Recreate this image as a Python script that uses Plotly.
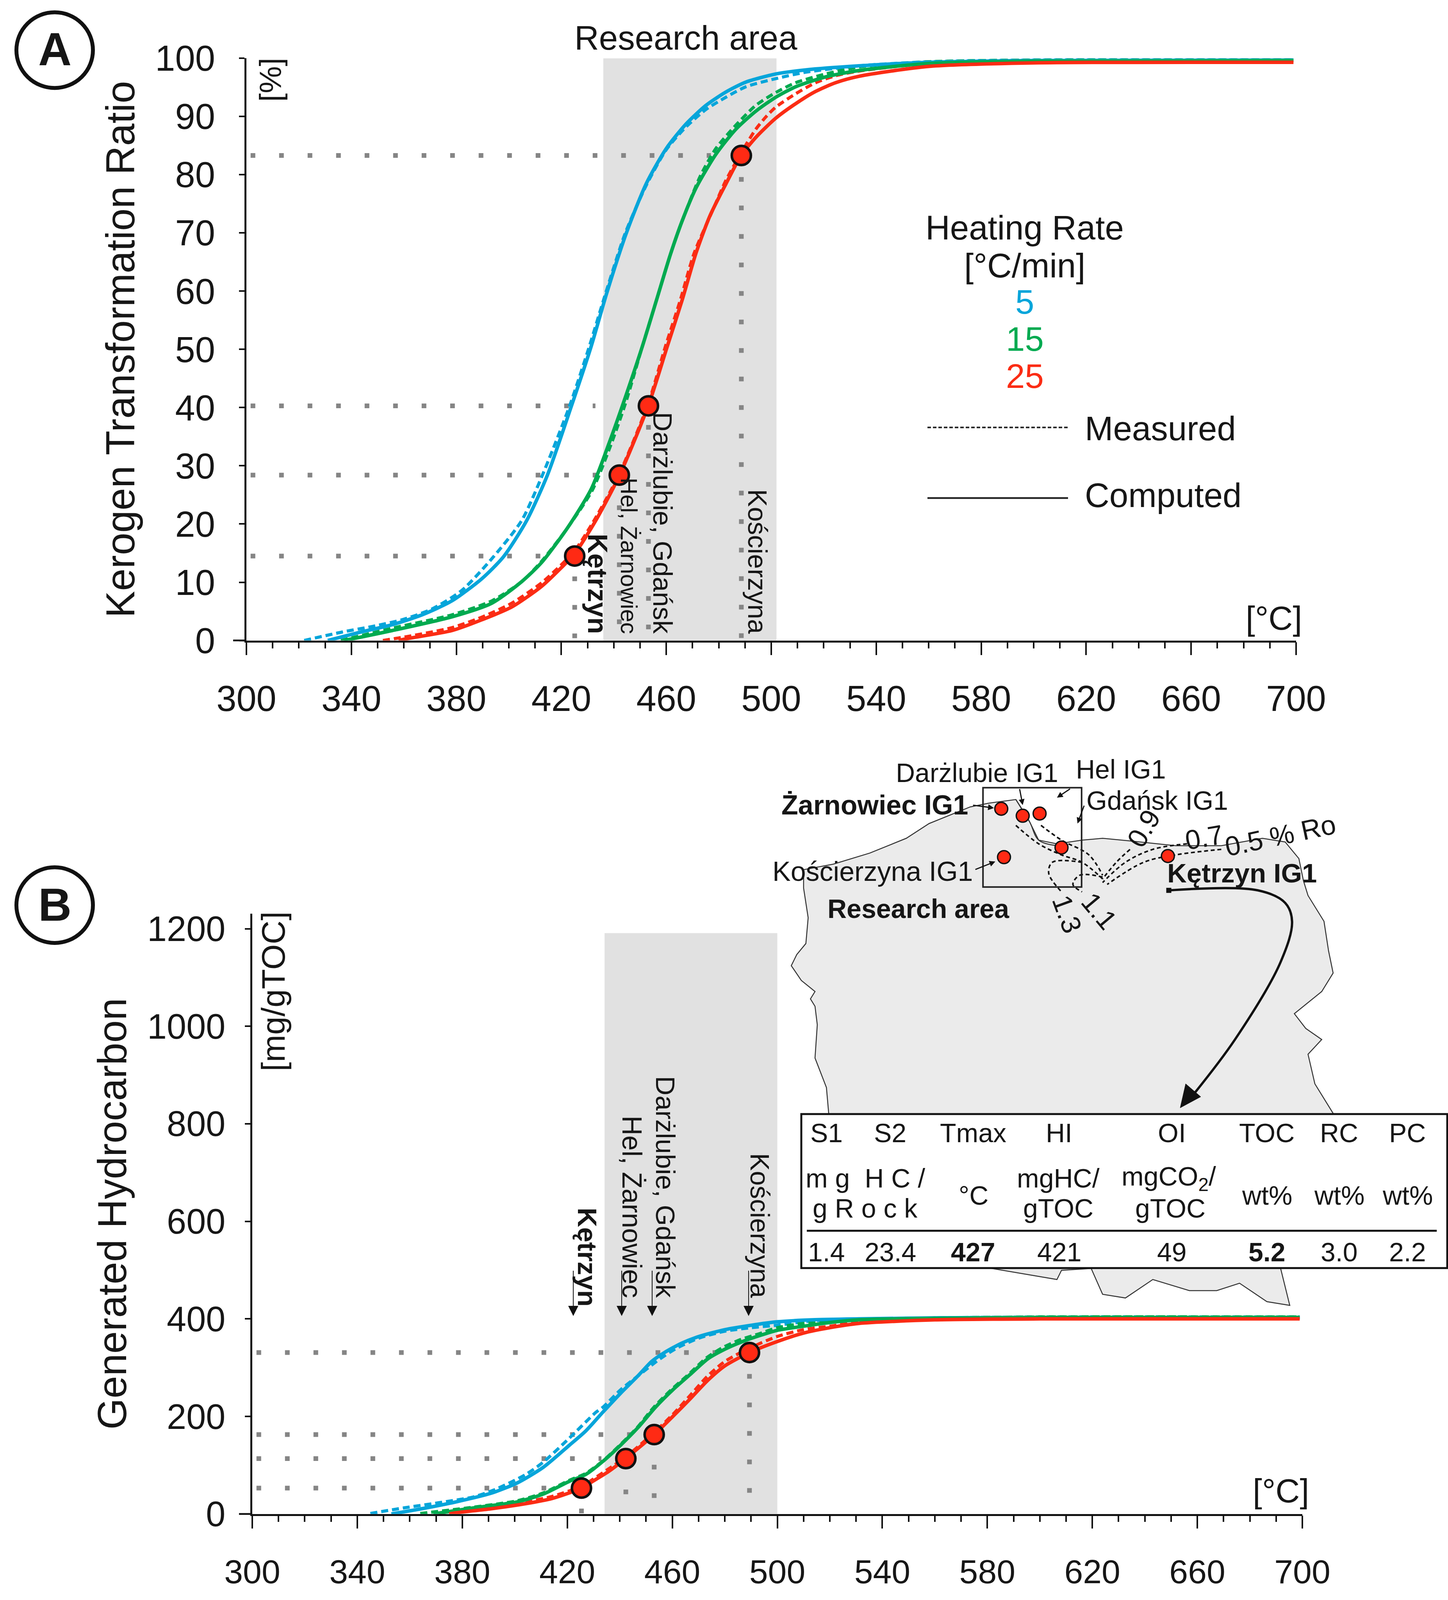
import plotly.graph_objects as go

W, H = 3708, 4147
BLUE, GREEN, RED = "#05a5da", "#00aa50", "#fb2c14"
INK = "#161616"
FONT = "Liberation Sans"

# ---------- Panel A data (temperature degC, transformation ratio %) ----------
A_BLUE_COMP_X = [331, 344.1, 355.5, 366.9, 378.3, 389.7, 398, 406.8, 414.7, 423.8, 431.3, 437.2, 444.8, 452.4, 460, 467.5, 475.1, 482.7, 490.3, 501.7, 513.1, 533.4, 560, 600, 699]
A_BLUE_COMP_Y = [0, 1.5, 2.7, 4.4, 6.8, 10.6, 14.4, 20.6, 28.4, 40.2, 50.4, 59.5, 70, 78.5, 84.5, 88.7, 91.9, 94.2, 95.9, 97.3, 98, 98.7, 99.3, 99.6, 99.7]
A_BLUE_MEAS_X = [322, 336.5, 347.9, 359.3, 370.7, 382.1, 394.2, 404.9, 412.8, 423.1, 430.6, 436.8, 444.4, 452.4, 460, 467.5, 475.1, 482.7, 490.3, 501.7, 513.1, 533.4, 560, 600, 699]
A_BLUE_MEAS_Y = [0, 1.45, 2.4, 3.55, 5.4, 8.6, 14.4, 20.6, 28.4, 40.2, 50.4, 59.5, 70, 78.2, 84.3, 88.2, 91.2, 93.3, 95.1, 96.5, 97.6, 98.7, 99.4, 99.7, 99.8]
A_GREEN_COMP_X = [337.3, 355.5, 378.3, 393.5, 404.9, 412.5, 422.3, 431.4, 438.3, 444.2, 450.8, 456.9, 461.5, 466, 471.3, 478.9, 486.5, 494.1, 501.7, 509.3, 520.7, 533.4, 560, 600, 699]
A_GREEN_COMP_Y = [0, 1.7, 4.06, 6.4, 10.1, 13.4, 19.3, 26, 34, 41.5, 50.4, 59.4, 66.2, 72, 77.7, 83.5, 87.8, 90.9, 93.3, 95.1, 96.8, 97.9, 99.1, 99.5, 99.6]
A_GREEN_MEAS_X = [336, 355.5, 378.3, 393.5, 404.9, 412.5, 422.3, 431.8, 438.8, 444.5, 450.8, 456.9, 461.5, 466, 472.9, 478.9, 486.5, 494.1, 501.7, 509.3, 520.7, 533.4, 560, 600, 699]
A_GREEN_MEAS_Y = [0, 2.1, 4.4, 6.8, 10.1, 13.6, 19.3, 25.8, 33.5, 40.8, 50.4, 59.4, 66.2, 72, 79.7, 84.5, 88.5, 91.9, 94.1, 95.8, 97.3, 98.5, 99.4, 99.7, 99.8]
A_RED_COMP_X = [358, 361.6, 378.3, 389.7, 401.1, 412.5, 420, 425.1, 433, 442.1, 453.2, 460.3, 466, 471.3, 476.7, 482.7, 488.4, 494.1, 501.7, 509.3, 516.9, 524.5, 533.4, 560, 600, 699]
A_RED_COMP_Y = [0, 0.34, 1.7, 3.55, 5.75, 9.3, 12.5, 14.9, 20.5, 28.3, 40.4, 50.4, 58.4, 66.5, 73, 78.4, 83.2, 86.4, 89.7, 92.2, 94.3, 95.8, 96.9, 98.6, 99.2, 99.3]
A_RED_MEAS_X = [352, 361.6, 378.3, 389.7, 401.1, 412.5, 420, 425.1, 433, 442.1, 453.2, 459.6, 465.3, 470.6, 477.4, 482.7, 490.3, 494.1, 497.9, 501.7, 509.3, 516.9, 524.5, 533.4, 560, 600, 699]
A_RED_MEAS_Y = [0, 0.7, 2.2, 4, 6.4, 9.9, 13, 15.4, 21, 28.6, 40.8, 50.4, 58.4, 66.5, 73.6, 79, 85.1, 87.8, 89.9, 91.6, 93.9, 95.8, 97, 97.8, 99.1, 99.5, 99.6]
A_WELL_T = [425.1, 442.1, 453.2, 488.6]
A_WELL_R = [14.5, 28.4, 40.3, 83.3]
A_H_END = [412, 444, 433, 477]
A_V_TOP = [11, 23.2, 37, 79.6]
A_BAND = [436, 502]

# ---------- Panel B data (temperature degC, generated hydrocarbon mg/gTOC) ----------
B_BLUE_COMP_X = [353, 364.4, 377.6, 390.9, 400.9, 410.8, 420.8, 427, 433.6, 440.3, 446.9, 452.2, 456.9, 463.5, 470.2, 480.1, 490.1, 500, 513.3, 531.1, 560, 600, 699]
B_BLUE_COMP_Y = [0, 10.6, 24.8, 42.4, 63.6, 95.5, 141, 170, 209, 247.5, 283, 313, 330.6, 350, 364, 378, 387, 394, 398, 400, 402, 403, 403]
B_BLUE_MEAS_X = [345, 357.7, 371, 384.3, 392.9, 404.2, 410.8, 420.8, 430.8, 433.6, 440.3, 446.9, 454.9, 461.5, 470.2, 480.1, 490.1, 500, 513.3, 531.1, 560, 600, 699]
B_BLUE_MEAS_Y = [1, 12.4, 23, 35, 51, 81, 106, 155.6, 208, 219, 254.6, 283, 316.5, 339.5, 360.7, 374.8, 382, 387, 396, 399.6, 402, 404, 404]
B_GREEN_COMP_X = [369, 384.3, 400.9, 410.8, 420.8, 427, 433.6, 440.3, 446.9, 453.6, 460.2, 466.8, 473.5, 480.1, 486.8, 493.4, 500, 510, 520, 531, 560, 600, 699]
B_GREEN_COMP_Y = [0, 12.4, 24.8, 40.7, 67, 81, 108, 141, 177, 219, 254.6, 286, 318, 338, 353.6, 366, 376.6, 385, 392.5, 398, 401, 403, 403]
B_GREEN_MEAS_X = [364, 384.3, 400.9, 410.8, 420.8, 427, 433.6, 440, 446.6, 453, 459.6, 466.2, 473, 479.5, 486.2, 493.4, 500, 510, 520, 531, 560, 600, 699]
B_GREEN_MEAS_Y = [1, 14, 27, 43, 69, 83, 109, 141, 177, 219, 254.6, 286, 320, 342, 358, 370, 382, 391, 396, 398, 402, 404, 404]
B_RED_COMP_X = [375, 377.6, 390.9, 404.2, 414.2, 425.4, 429.7, 435.6, 442.3, 453.1, 460.2, 466.8, 473.5, 480.1, 489.4, 500, 510, 520, 531, 560, 600, 699]
B_RED_COMP_Y = [0, 2.5, 10.6, 21.2, 31.8, 53, 67, 86.6, 113.9, 162.7, 200, 236, 274, 304, 331, 353.6, 371, 382, 390.7, 398, 400, 400]
B_RED_MEAS_X = [371, 390.9, 404.2, 414.2, 425.4, 435.6, 442.3, 453.1, 460.2, 466.8, 473.5, 480.1, 489.4, 500, 510, 520, 531, 560, 600, 699]
B_RED_MEAS_Y = [2, 14, 24.7, 36, 57, 92, 117, 167, 204, 243, 283, 313, 340, 364, 378, 385, 394, 400, 402, 402]
B_WELL_T = [425.4, 442.3, 453.1, 489.4]
B_WELL_G = [53, 113.5, 162.7, 331]
B_H_END = [412, 433, 444, 477]
B_V_TOP = [11, 50, 101, 287]
B_BAND = [434.2, 500]
B_BAND_TOP = 1191

X_TICKS = [300, 340, 380, 420, 460, 500, 540, 580, 620, 660, 700]
A_Y_TICKS = list(range(0, 101, 10))
B_Y_TICKS = [0, 200, 400, 600, 800, 1000, 1200]

WELL_NAMES = ["Kętrzyn", "Hel, Żarnowiec", "Darżlubie, Gdańsk", "Kościerzyna"]
HEATING = ["5", "15", "25"]

# ---------- Inset table ----------
TABLE_COLS = [185, 325, 506, 695, 942, 1150, 1308, 1458]
TABLE_HEAD = ["S1", "S2", "Tmax", "HI", "OI", "TOC", "RC", "PC"]
TABLE_VALS = ["1.4", "23.4", "427", "421", "49", "5.2", "3.0", "2.2"]
TABLE_BOLD = {"427", "5.2"}

# ---------- Inset map outline (schematic, in inset units) ----------
MAP_X = [135, 200, 280, 360, 410, 450, 500, 540, 600, 630, 650, 690, 745, 790, 850, 950, 1050, 1140, 1190, 1220, 1230,
         1240, 1275, 1285, 1295, 1270, 1210, 1235, 1270, 1240, 1255, 1295, 1180, 1200, 1150, 1090, 1040, 980, 900, 840,
         790, 765, 700, 690, 500, 190, 185, 160, 165, 160, 150, 160, 130, 108, 120, 140, 145, 135, 135]
MAP_Y = [370, 355, 325, 285, 245, 225, 200, 190, 180, 240, 290, 300, 290, 285, 292, 305, 305, 285, 295, 340, 400,
         440, 510, 590, 650, 700, 760, 800, 830, 870, 950, 1030, 1450, 1550, 1540, 1490, 1510, 1510, 1480, 1530,
         1520, 1450, 1455, 1480, 1440, 1030, 960, 880, 790, 740, 720, 700, 670, 630, 600, 570, 500, 420, 370]
MAP_WELLS_X = [568, 615, 652, 700, 574, 933]
MAP_WELLS_Y = [205, 224, 218, 310, 336, 333]
ISO_LINES = [
    ([1050, 950, 880, 800], [315, 330, 350, 410]),
    ([975, 900, 840, 790], [300, 315, 350, 405]),
    ([850, 820, 790], [315, 350, 395]),
    ([600, 650, 700, 745, 790], [250, 300, 330, 350, 395]),
    ([655, 700, 760, 790], [250, 290, 330, 385]),
    ([745, 680, 672, 700], [350, 350, 380, 430]),
    ([790, 740, 725, 745], [390, 385, 410, 430]),
]
BIG_ARROW_X = [935, 1130, 1190, 1205, 1180, 1080, 985]
BIG_ARROW_Y = [426, 426, 460, 510, 620, 830, 985]
BIG_HEAD_X = [960, 972, 1005, 960]
BIG_HEAD_Y = [1015, 950, 985, 1015]


def ix(c):
    return 1900 + c * 1.169


def iy(c):
    return 1900 + c * 0.957


fig = go.Figure()


def curve(x, y, color, axis, dashed):
    fig.add_trace(go.Scatter(
        x=x, y=y, mode="lines", xaxis="x" + axis, yaxis="y" + axis, hoverinfo="skip", showlegend=False,
        line=dict(color=color, width=8 if dashed else 9, dash="18px,10px" if dashed else "solid",
                  shape="spline", smoothing=0.7)))


def dots(x, y, axis):
    fig.add_trace(go.Scatter(
        x=x, y=y, mode="lines", xaxis="x" + axis, yaxis="y" + axis, hoverinfo="skip", showlegend=False,
        line=dict(color="#858585", width=12, dash="12px,61px")))


# Panel A
for t, r, e, v in zip(A_WELL_T, A_WELL_R, A_H_END, A_V_TOP):
    dots([301.6, e], [r, r], "")
    dots([t, t], [v, 0], "")
for xs, ys, col in [(A_BLUE_MEAS_X, A_BLUE_MEAS_Y, BLUE), (A_GREEN_MEAS_X, A_GREEN_MEAS_Y, GREEN), (A_RED_MEAS_X, A_RED_MEAS_Y, RED)]:
    curve(xs, ys, col, "", True)
for xs, ys, col in [(A_BLUE_COMP_X, A_BLUE_COMP_Y, BLUE), (A_GREEN_COMP_X, A_GREEN_COMP_Y, GREEN), (A_RED_COMP_X, A_RED_COMP_Y, RED)]:
    curve(xs, ys, col, "", False)
fig.add_trace(go.Scatter(x=A_WELL_T, y=A_WELL_R, mode="markers", hoverinfo="skip", showlegend=False, cliponaxis=False,
                         marker=dict(size=49, color="#ff2a14", line=dict(color="#111", width=6.5))))

# Panel B
for t, g, e, v in zip(B_WELL_T, B_WELL_G, B_H_END, B_V_TOP):
    dots([301.6, e], [g, g], "2")
    dots([t, t], [v, 0], "2")
for xs, ys, col in [(B_BLUE_MEAS_X, B_BLUE_MEAS_Y, BLUE), (B_GREEN_MEAS_X, B_GREEN_MEAS_Y, GREEN), (B_RED_MEAS_X, B_RED_MEAS_Y, RED)]:
    curve(xs, ys, col, "2", True)
for xs, ys, col in [(B_BLUE_COMP_X, B_BLUE_COMP_Y, BLUE), (B_GREEN_COMP_X, B_GREEN_COMP_Y, GREEN), (B_RED_COMP_X, B_RED_COMP_Y, RED)]:
    curve(xs, ys, col, "2", False)
fig.add_trace(go.Scatter(x=B_WELL_T, y=B_WELL_G, mode="markers", xaxis="x2", yaxis="y2", hoverinfo="skip", showlegend=False,
                         cliponaxis=False, marker=dict(size=49, color="#ff2a14", line=dict(color="#111", width=6.5))))


def ov(x, y, **kw):
    fig.add_trace(go.Scatter(x=x, y=y, xaxis="x3", yaxis="y3", hoverinfo="skip", showlegend=False, **kw))


# Inset map
ov([ix(c) for c in MAP_X], [iy(c) for c in MAP_Y], mode="lines", fill="toself", fillcolor="#ebebeb",
   line=dict(color="#333", width=2.5))
ov([ix(c) for c in [600, 630, 650, 690]], [iy(c) for c in [180, 240, 290, 305]], mode="lines",
   line=dict(color="#333", width=2.5, shape="spline"))
for lx, ly in ISO_LINES:
    ov([ix(c) for c in lx], [iy(c) for c in ly], mode="lines",
       line=dict(color="#111", width=4, dash="10px,7px", shape="spline"))
ov([ix(c) for c in MAP_WELLS_X], [iy(c) for c in MAP_WELLS_Y], mode="markers",
   marker=dict(size=33, color="#ff2a14", line=dict(color="#111", width=3.5)))
ov([ix(c) for c in BIG_ARROW_X], [iy(c) for c in BIG_ARROW_Y], mode="lines",
   line=dict(color="#111", width=6, shape="spline"))
ov([ix(c) for c in BIG_HEAD_X], [iy(c) for c in BIG_HEAD_Y], mode="lines", fill="toself", fillcolor="#111",
   line=dict(color="#111", width=1))
ov([ix(935)], [iy(426)], mode="markers", marker=dict(size=13, symbol="square", color="#111"))
# Legend key lines (pixel overlay)
ov([2375, 2735], [1108, 1108], mode="lines", line=dict(color="#222", width=4, dash="9px,5px"))
ov([2375, 2735], [1291, 1291], mode="lines", line=dict(color="#222", width=4.5))
# Extended zero ticks on the y axes
ov([597, 631], [1660, 1660], mode="lines", line=dict(color="#111", width=4.5))
ov([612, 646], [3924, 3924], mode="lines", line=dict(color="#111", width=4.5))

shapes = [
    dict(type="rect", xref="x", yref="y", x0=A_BAND[0], x1=A_BAND[1], y0=0, y1=100, fillcolor="#e1e1e1",
         line_width=0, layer="below"),
    dict(type="rect", xref="x2", yref="y2", x0=B_BAND[0], x1=B_BAND[1], y0=0, y1=B_BAND_TOP, fillcolor="#e1e1e1",
         line_width=0, layer="below"),
    dict(type="circle", xref="x3", yref="y3", x0=42, x1=238, y0=32, y1=228, line=dict(color="#111", width=10)),
    dict(type="circle", xref="x3", yref="y3", x0=42, x1=238, y0=2248, y1=2444, line=dict(color="#111", width=10)),
    dict(type="rect", xref="x3", yref="y3", x0=ix(528), x1=ix(744), y0=iy(148), y1=iy(417), line=dict(color="#222", width=4)),
    dict(type="rect", xref="x3", yref="y3", x0=ix(130), x1=ix(1545), y0=iy(1032), y1=iy(1449), fillcolor="white",
         line=dict(color="#111", width=5)),
    dict(type="line", xref="x3", yref="y3", x0=ix(142), x1=ix(1522), y0=iy(1348), y1=iy(1348), line=dict(color="#111", width=5)),
]

ann = []


def text(x, y, s, size, color=INK, bold=False, angle=0, xa="center", ya="middle"):
    ann.append(dict(x=x, y=y, xref="x3", yref="y3", text=f"<b>{s}</b>" if bold else s, showarrow=False,
                    font=dict(family=FONT, size=size, color=color), textangle=angle, xanchor=xa, yanchor=ya))


def arrow(x0, y0, x1, y1, size=1.0, width=3):
    ann.append(dict(x=x1, y=y1, ax=x0, ay=y0, xref="x3", yref="y3", axref="x3", ayref="y3", text="", showarrow=True,
                    arrowhead=2, arrowsize=size, arrowwidth=width, arrowcolor="#111"))


text(140, 128, "A", 118, bold=True)
text(140, 2345, "B", 118, bold=True)
text(1756, 98, "Research area", 87)
text(693, 207, "[%]", 78, angle=-90)
text(3262, 1602, "[°C]", 86)
text(3280, 3864, "[°C]", 86)
text(700, 2570, "[mg/gTOC]", 84, angle=-90)

# Panel A well labels
for s, tx, sz in zip(WELL_NAMES, [1530, 1610, 1696, 1940], [70, 60, 69, 68]):
    text(tx, 1645, s, sz, bold=(s == "Kętrzyn"), angle=90, ya="bottom")
# Panel B well labels and arrows
for s, tx, a, sz, bot in zip(WELL_NAMES, [1503, 1618, 1703, 1946], [1468, 1592, 1670, 1917], [69, 70, 69, 68],
                             [3388, 3366, 3366, 3366]):
    text(tx, bot, s, sz, bold=(s == "Kętrzyn"), angle=90, ya="bottom")
    arrow(a, 3292, a, 3411, 2.6, 2)

# Heating-rate legend
text(2624, 590, "Heating Rate", 87)
text(2624, 688, "[°C/min]", 87)
for s, col, y in zip(HEATING, [BLUE, GREEN, RED], [782, 878, 974]):
    text(2624, y, s, 87, color=col)
text(2776, 1110, "Measured", 87, xa="left")
text(2776, 1283, "Computed", 87, xa="left")

# Map labels
text(ix(515), iy(107), "Darżlubie IG1", 68)
text(ix(830), iy(98), "Hel IG1", 68)
text(ix(910), iy(182), "Gdańsk IG1", 68)
text(ix(497), iy(195), "Żarnowiec IG1", 70, bold=True, xa="right")
text(ix(508), iy(375), "Kościerzyna IG1", 70, xa="right")
text(ix(387), iy(475), "Research area", 68, bold=True)
text(ix(930), iy(380), "Kętrzyn IG1", 69, bold=True, xa="left")
text(ix(880), iy(258), "0.9", 70, angle=-60)
text(ix(1012), iy(283), "0.7", 70, angle=-10)
text(ix(1180), iy(278), "0.5 % Ro", 70, angle=-12)
text(ix(782), iy(482), "1.1", 70, angle=50)
text(ix(712), iy(490), "1.3", 70, angle=70)
arrow(ix(505), iy(195), ix(552), iy(203))
arrow(ix(608), iy(150), ix(615), iy(195))
arrow(ix(720), iy(150), ix(690), iy(175))
arrow(ix(750), iy(195), ix(735), iy(245))
arrow(ix(510), iy(370), ix(555), iy(348))

# Table text
for c, h, v in zip(TABLE_COLS, TABLE_HEAD, TABLE_VALS):
    text(ix(c), iy(1083), h, 68)
    text(ix(c), iy(1405), v, 68, bold=v in TABLE_BOLD)
text(ix(270), iy(1205), "m g  H C /", 68)
text(ix(270), iy(1287), "g R o c k", 68)
text(ix(507), iy(1252), "°C", 68)
text(ix(693), iy(1205), "mgHC/", 68)
text(ix(693), iy(1287), "gTOC", 68)
text(ix(935), iy(1205), "mgCO<sub>2</sub>/", 68)
text(ix(938), iy(1287), "gTOC", 68)
for c in TABLE_COLS[5:]:
    text(ix(c), iy(1252), "wt%", 68)


def xax(left, right, anchor, size, standoff):
    return dict(domain=[left / W, right / W], range=[300, 700], anchor=anchor, tickmode="array", tickvals=X_TICKS,
                ticks="outside", ticklen=33, tickwidth=3.5, tickcolor="#111", showline=True, linecolor="#111",
                linewidth=4.5, showgrid=False, zeroline=False, ticklabelstandoff=standoff, automargin=False,
                tickfont=dict(family=FONT, size=size, color=INK),
                minor=dict(dtick=10, tick0=300, ticks="outside", ticklen=16, tickwidth=3.5, tickcolor="#111", showgrid=False))


def yax(top, bottom, rng, vals, anchor, size, tstand, title, standoff):
    return dict(domain=[1 - bottom / H, 1 - top / H], range=rng, anchor=anchor, tickmode="array", tickvals=vals,
                ticks="outside", ticklen=14, tickwidth=3.5, tickcolor="#111", showline=True, linecolor="#111",
                linewidth=4.5, showgrid=False, zeroline=False, ticklabelstandoff=tstand, automargin=False,
                tickfont=dict(family=FONT, size=size, color=INK),
                title=dict(text=title, standoff=standoff, font=dict(family=FONT, size=103, color=INK)))


fig.update_layout(
    autosize=True, margin=dict(l=0, r=0, t=0, b=0), paper_bgcolor="white", plot_bgcolor="rgba(0,0,0,0)",
    showlegend=False, shapes=shapes, annotations=ann,
    xaxis=xax(631, 3319, "y", 92, 32),
    yaxis=yax(151, 1660, [0, 100], A_Y_TICKS, "x", 92, 43, "Kerogen Transformation Ratio", 20),
    xaxis2=xax(646, 3335, "y2", 86, 36),
    yaxis2=yax(2368, 3924, [0, 1231], B_Y_TICKS, "x2", 90, 32, "Generated Hydrocarbon", 20),
    xaxis3=dict(domain=[0, 1], range=[0, W], visible=False, anchor="y3", automargin=False),
    yaxis3=dict(domain=[0, 1], range=[H, 0], visible=False, anchor="x3", automargin=False),
)
fig.write_html("out.html", config={"displayModeBar": False}, default_width="100vw", default_height="100vh",
               post_script="document.body.style.margin='0';")
